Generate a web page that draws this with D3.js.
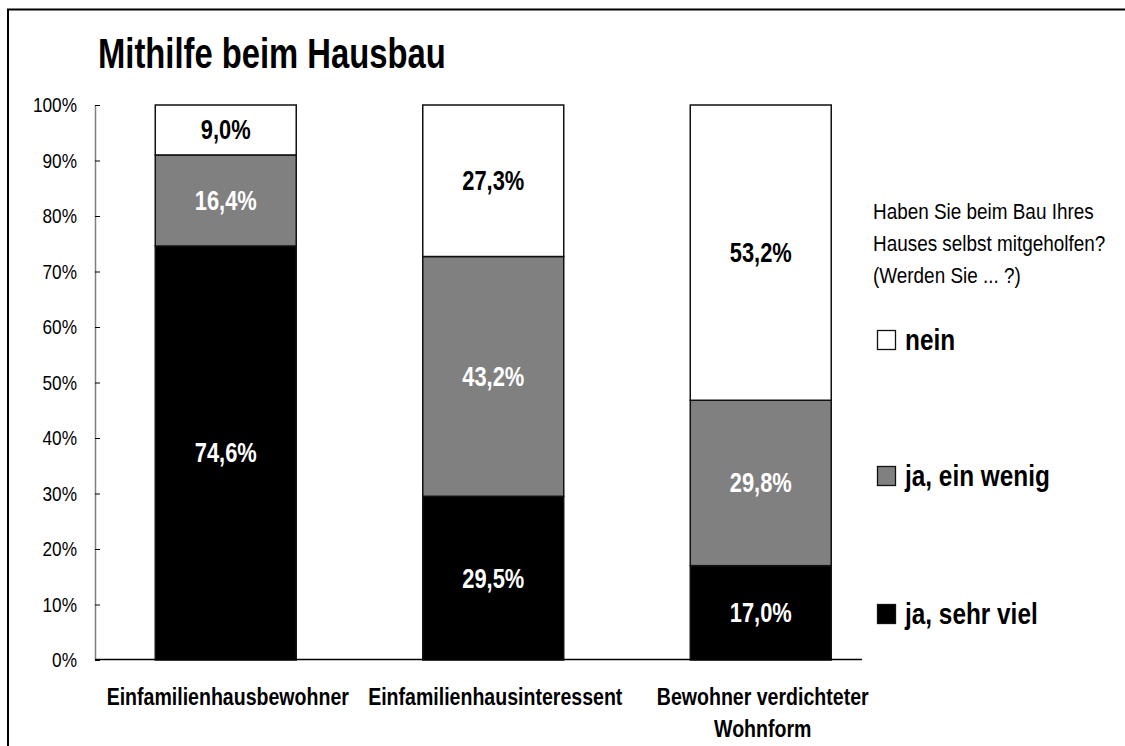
<!DOCTYPE html>
<html><head><meta charset="utf-8">
<script src="https://cdn.jsdelivr.net/npm/d3@7"></script>
<style>
html,body{margin:0;padding:0;background:#fff;}
svg{display:block;}
text{font-family:"Liberation Sans",Arial,sans-serif;}
</style></head>
<body>
<svg id="c" width="1125" height="746"></svg>
<script>
const title = "Mithilfe beim Hausbau";
const categories = ["Einfamilienhausbewohner", "Einfamilienhausinteressent", "Bewohner verdichteter Wohnform"];
const categoryLines = [["Einfamilienhausbewohner"], ["Einfamilienhausinteressent"], ["Bewohner verdichteter", "Wohnform"]];
const seriesNames = ["ja, sehr viel", "ja, ein wenig", "nein"];
const seriesColors = ["#000000", "#808080", "#ffffff"];
const labelColors = ["#ffffff", "#ffffff", "#000000"];
const jaSehrViel = [74.6, 29.5, 17.0];
const jaEinWenig = [16.4, 43.2, 29.8];
const nein = [9.0, 27.3, 53.2];
const yTicks = [0, 10, 20, 30, 40, 50, 60, 70, 80, 90, 100];
const legendTitle = ["Haben Sie beim Bau Ihres", "Hauses selbst mitgeholfen?", "(Werden Sie ... ?)"];

const svg = d3.select("#c");
const fmt = v => v.toFixed(1).replace(".", ",") + "%";
function narrow(sel, f) {
  sel.each(function () {
    const len = this.getComputedTextLength();
    d3.select(this).attr("textLength", len * f).attr("lengthAdjust", "spacingAndGlyphs");
  });
}

// frame
svg.append("path").attr("d", "M8,746V9.5H1125").attr("fill", "none").attr("stroke", "#000").attr("stroke-width", 2);

// title
svg.append("text").attr("x", 98).attr("y", 68).attr("font-size", 42).attr("font-weight", "bold").text(title).call(narrow, 0.78);

const y = d3.scaleLinear().domain([0, 100]).range([660, 105]);
const x = d3.scaleBand().domain(categories).range([92, 894.5]).paddingInner(0.473).paddingOuter(0.2365);

const rows = categories.map((c, i) => ({cat: c, s0: jaSehrViel[i], s1: jaEinWenig[i], s2: nein[i]}));
const stack = d3.stack().keys(["s0", "s1", "s2"])(rows);

// y axis
const yAxis = svg.append("g").attr("transform", "translate(95,0)")
  .call(d3.axisLeft(y).tickValues(yTicks).tickFormat(d => d + "%").tickSizeInner(-5).tickSizeOuter(0).tickPadding(18));
yAxis.select(".domain").attr("stroke", "#808080").attr("stroke-width", 1.5);
yAxis.selectAll(".tick line").attr("stroke", "#000");
yAxis.selectAll(".tick text").attr("font-size", 21).attr("fill", "#000").attr("font-family", null).call(narrow, 0.82);

// bars
stack.forEach((layer, si) => {
  const g = svg.append("g");
  g.selectAll("rect").data(layer).join("rect")
    .attr("x", d => x(d.data.cat))
    .attr("width", x.bandwidth())
    .attr("y", d => y(d[1]))
    .attr("height", d => y(d[0]) - y(d[1]))
    .attr("fill", seriesColors[si])
    .attr("stroke", "#111").attr("stroke-width", 1.5);
  g.selectAll("text").data(layer).join("text")
    .attr("x", d => x(d.data.cat) + x.bandwidth() / 2)
    .attr("y", d => (y(d[0]) + y(d[1])) / 2 + 9.5)
    .attr("text-anchor", "middle")
    .attr("font-size", 27).attr("font-weight", "bold")
    .attr("fill", labelColors[si])
    .text(d => fmt(d[1] - d[0]))
    .call(narrow, 0.81);
});

// x baseline
svg.append("line").attr("x1", 95).attr("x2", 862).attr("y1", 659.5).attr("y2", 659.5).attr("stroke", "#000").attr("stroke-width", 1.5);

// category labels
categories.forEach((c, i) => {
  const cx = x(c) + x.bandwidth() / 2 + 2;
  const t = svg.append("text").attr("text-anchor", "middle").attr("font-size", 23).attr("font-weight", "bold")
    .attr("x", cx).attr("y", 705);
  categoryLines[i].forEach((ln, j) => t.append("tspan").attr("x", cx).attr("dy", j ? 32 : 0).text(ln));
  t.selectAll("tspan").call(narrow, 0.85);
});

// legend title (condensed via transform)
const ltg = svg.append("g").attr("transform", "translate(873,0) scale(0.86,1)");
legendTitle.forEach((ln, j) => ltg.append("text").attr("x", 0).attr("y", 219 + j * 32)
  .attr("font-size", 22).attr("fill", "#000").text(ln));

// legend items
const legendY = [614, 476, 340];
seriesNames.forEach((n, i) => {
  svg.append("rect").attr("x", 877.5).attr("y", legendY[i] - 9.5).attr("width", 18).attr("height", 19)
    .attr("fill", seriesColors[i]).attr("stroke", "#111").attr("stroke-width", 1.3);
  svg.append("text").attr("x", 905).attr("y", legendY[i] + 10).attr("font-size", 29).attr("font-weight", "bold").text(n).call(narrow, 0.84);
});
</script>
</body></html>
